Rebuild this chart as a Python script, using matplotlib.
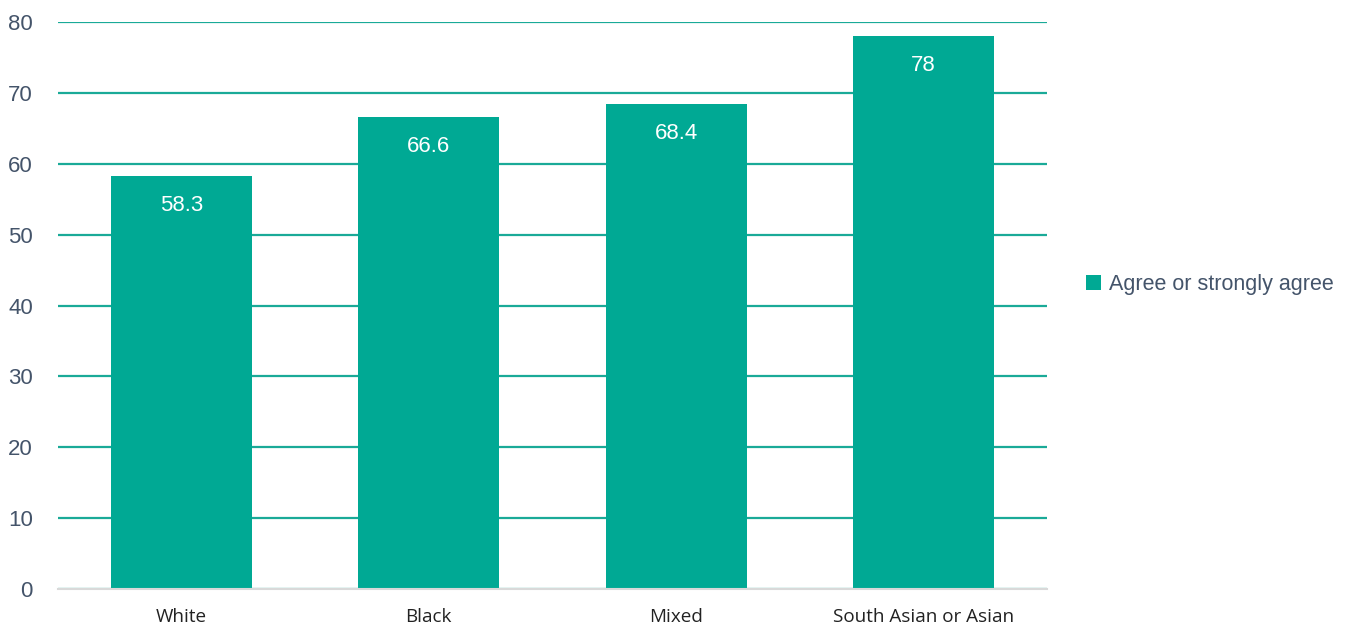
import matplotlib.pyplot as plt
import numpy as np

groups = ['White', 'Black', 'Mixed', 'South Asian or Asian']
agree = [58.3, 66.6, 68.4, 78]
value_labels = ['58.3', '66.6', '68.4', '78']
y_ticks = [0, 10, 20, 30, 40, 50, 60, 70, 80]

teal = '#00a994'
grid_teal = '#1aaa98'
text_grey = '#44546a'

fig = plt.figure(figsize=(13.48, 6.25), dpi=100)
ax = fig.add_axes([0.043, 0.0576, 0.7337, 0.9072])

x = np.arange(len(groups))
bars = ax.bar(x, agree, width=0.57, color=teal, zorder=3, label='Agree or strongly agree')

# white value labels just inside the bar tops
for xi, v, lab in zip(x, agree, value_labels):
    ax.annotate(lab, (xi, v), xytext=(0, -29), textcoords='offset points',
                ha='center', va='bottom', color='white', fontsize=16,
                family='Liberation Sans')

ax.set_xlim(-0.5, 3.5)
ax.set_ylim(0, 80)
ax.set_yticks(y_ticks)
ax.set_xticks(x)
ax.set_xticklabels(groups, fontsize=13.6, family='Open Sans', color='#222222')
for t in ax.get_yticklabels():
    t.set_fontsize(16)
    t.set_family('Liberation Sans')
    t.set_color(text_grey)
ax.tick_params(axis='both', length=0)
ax.tick_params(axis='x', pad=14)
ax.tick_params(axis='y', pad=18)

ax.grid(axis='y', color=grid_teal, linewidth=1.6, zorder=0)
for s in ['top', 'right', 'left']:
    ax.spines[s].set_visible(False)
ax.spines['bottom'].set_color('#d9d9d9')
ax.spines['bottom'].set_linewidth(1.5)
ax.spines['bottom'].set_zorder(4)

leg = fig.legend(loc='center left', bbox_to_anchor=(0.7915, 0.545), frameon=False,
                 handlelength=0.7, handleheight=0.7, handletextpad=0.35,
                 prop={'family': 'Liberation Sans', 'size': 15.5})
for t in leg.get_texts():
    t.set_color(text_grey)

fig.savefig('out.png', dpi=100)
